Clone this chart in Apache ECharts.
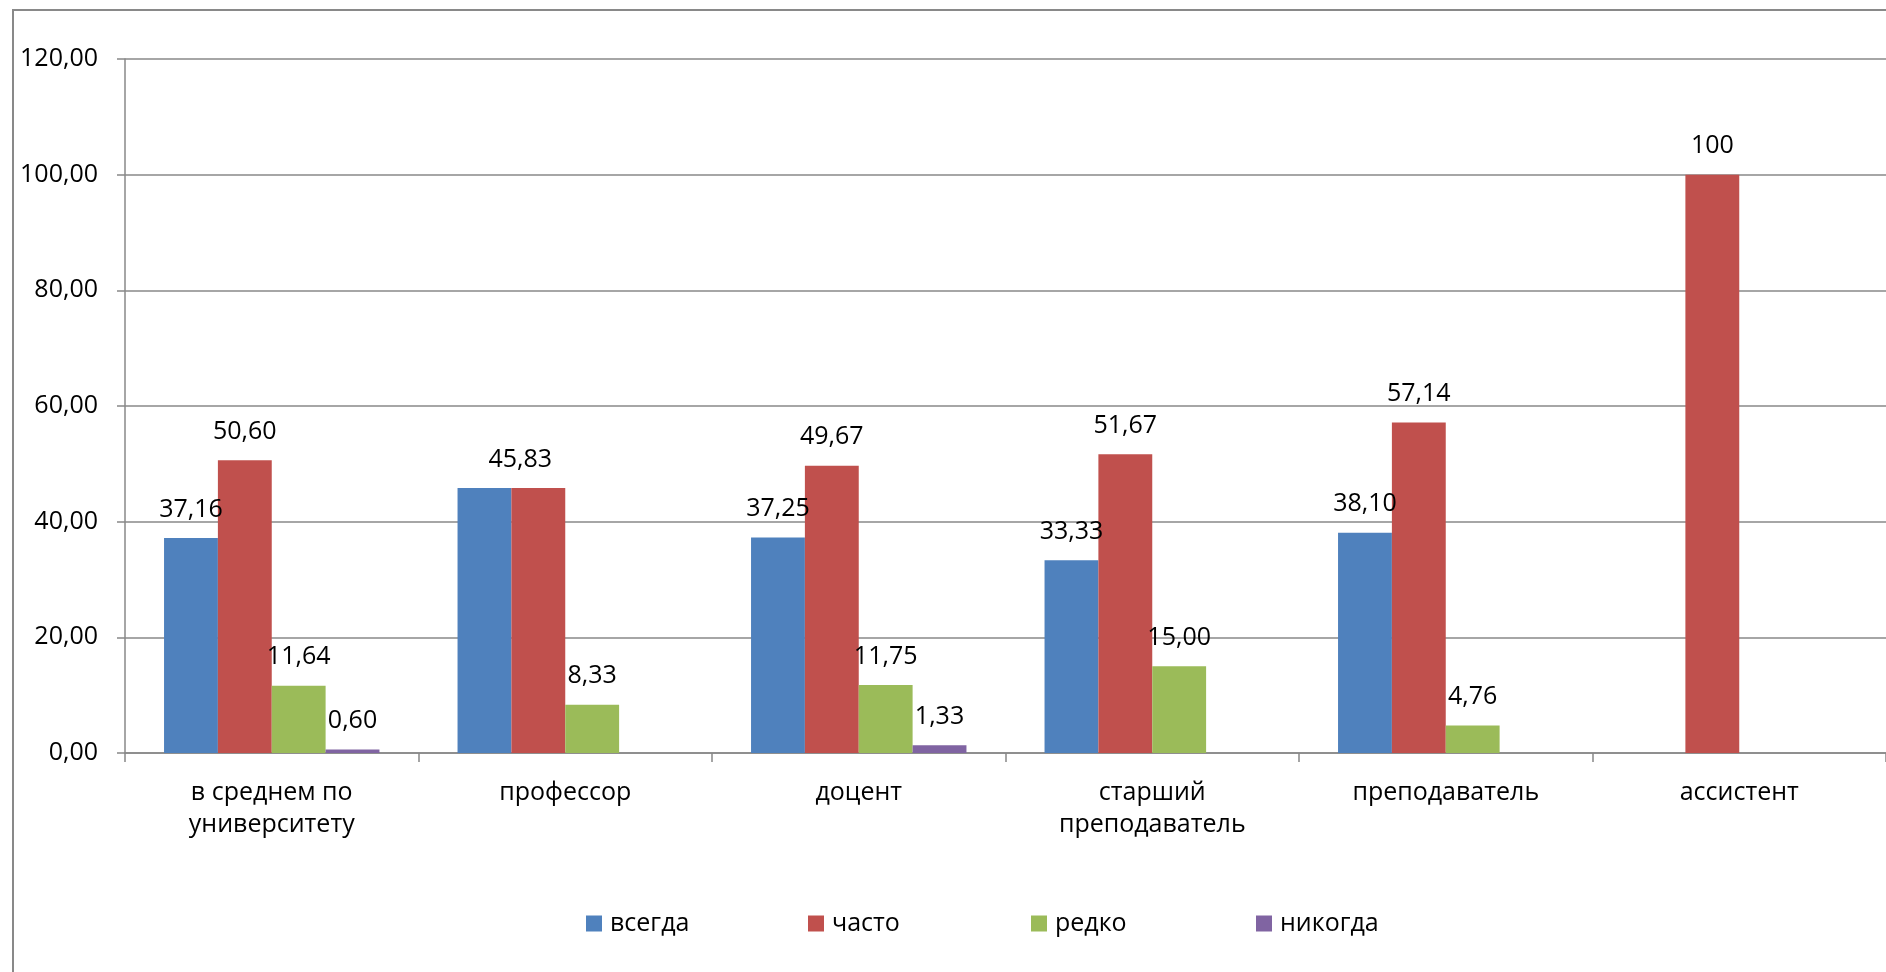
<!DOCTYPE html>
<html>
<head>
<meta charset="utf-8">
<script src="https://cdn.jsdelivr.net/npm/echarts@6/dist/echarts.min.js"></script>
<style>
html,body{margin:0;padding:0;background:#fff;}
#chart{width:1886px;height:972px;}
</style>
</head>
<body>
<div id="chart"></div>
<script>
const categories = ['в среднем по\nуниверситету', 'профессор', 'доцент', 'старший\nпреподаватель', 'преподаватель', 'ассистент'];
const seriesNames = ['всегда', 'часто', 'редко', 'никогда'];
const vsegda = [37.16, 45.83, 37.25, 33.33, 38.10, null];
const chasto = [50.60, 45.83, 49.67, 51.67, 57.14, 100];
const redko = [11.64, 8.33, 11.75, 15.00, 4.76, null];
const nikogda = [0.60, null, 1.33, null, null, null];
const yTicks = [0, 20, 40, 60, 80, 100, 120];
// labels hidden in the original (duplicate value for "профессор")
const hiddenLabels = [[1], [], [], []];
const colors = ['#4F81BD', '#C0504D', '#9BBB59', '#8064A2'];

const FONT = '"Open Sans", "Noto Sans", sans-serif';
const fmt = v => (v === 100 ? '100' : v.toFixed(2).replace('.', ','));

const allValues = [vsegda, chasto, redko, nikogda];
const series = allValues.map((vals, si) => ({
  name: seriesNames[si],
  type: 'bar',
  barGap: '0%',
  barCategoryGap: '26.6%',
  itemStyle: { color: colors[si] },
  label: {
    show: true,
    position: 'top',
    distance: 16,
    color: '#000',
    fontFamily: FONT,
    fontSize: 25,
    formatter: p => fmt(p.value)
  },
  data: vals.map((v, i) => {
    if (v === null) return null;
    const item = { value: v };
    if (hiddenLabels[si].includes(i)) item.label = { show: false };
    if (si === 1 && i === 1) item.label = { offset: [-18, 0] };
    return item;
  })
}));

const legendLefts = [581, 803, 1026, 1251];
const legends = seriesNames.map((n, i) => ({
  left: legendLefts[i],
  top: 906,
  itemWidth: 16,
  itemHeight: 16,
  icon: 'rect',
  textStyle: { fontFamily: FONT, fontSize: 25, color: '#000', padding: [0, 0, 0, 3] },
  data: [n]
}));

const chart = echarts.init(document.getElementById('chart'), null, { renderer: 'canvas' });
chart.setOption({
  backgroundColor: '#fff',
  animation: false,
  color: colors,
  graphic: [{
    type: 'rect',
    shape: { x: 13, y: 10, width: 3000, height: 2000 },
    style: { fill: 'none', stroke: '#898989', lineWidth: 2 },
    silent: true,
    z: 100
  }],
  grid: { left: 125, right: -3, top: 59, bottom: 219, containLabel: false },
  legend: legends,
  xAxis: {
    type: 'category',
    data: categories,
    axisLine: { lineStyle: { color: '#888', width: 1.5 } },
    axisTick: { show: true, length: 9, alignWithLabel: false, lineStyle: { color: '#888', width: 1.5 } },
    axisLabel: { fontFamily: FONT, fontSize: 25, color: '#000', margin: 24, lineHeight: 32, interval: 0 }
  },
  yAxis: {
    type: 'value',
    min: yTicks[0],
    max: yTicks[yTicks.length - 1],
    interval: yTicks[1] - yTicks[0],
    axisLine: { show: true, lineStyle: { color: '#888', width: 1.5 } },
    axisTick: { show: true, length: 8, lineStyle: { color: '#888', width: 1.5 } },
    splitLine: { show: true, lineStyle: { color: '#888', width: 1.5 } },
    axisLabel: { fontFamily: FONT, fontSize: 25, color: '#000', margin: 27, formatter: v => v.toFixed(2).replace('.', ',') }
  },
  series: series
});
</script>
</body>
</html>
